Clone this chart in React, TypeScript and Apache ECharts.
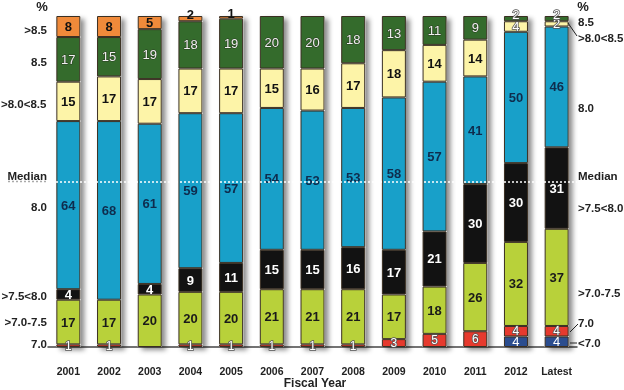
import React, { useEffect, useRef } from "react";
import * as echarts from "echarts";

const categories = ["2001", "2002", "2003", "2004", "2005", "2006", "2007", "2008", "2009", "2010", "2011", "2012", "Latest"];
const lt70 = [0, 0, 0, 0, 0, 0, 0, 0, 0, 0, 0, 4, 4];
const at70 = [1, 1, 0, 1, 1, 1, 1, 1, 3, 5, 6, 4, 4];
const r7075 = [17, 17, 20, 20, 20, 21, 21, 21, 17, 18, 26, 32, 37];
const r7580 = [4, 0, 4, 9, 11, 15, 15, 16, 17, 21, 30, 30, 31];
const at80 = [64, 68, 61, 59, 57, 54, 53, 53, 58, 57, 41, 50, 46];
const r8085 = [15, 17, 17, 17, 17, 15, 16, 17, 18, 14, 14, 4, 2];
const at85 = [17, 15, 19, 18, 19, 20, 20, 18, 13, 11, 9, 2, 2];
const gt85 = [8, 8, 5, 2, 1, 0, 0, 0, 0, 0, 0, 0, 0];
const median = 63;

const leftLabels = [">8.5", "8.5", ">8.0<8.5", "Median", "8.0", ">7.5<8.0", ">7.0-7.5", "7.0"];
const rightLabels = ["8.5", ">8.0<8.5", "8.0", "Median", ">7.5<8.0", ">7.0-7.5", "7.0", "<7.0"];

const FONT = "Liberation Sans, Arial, sans-serif";
const BORDER = "#3a2f22";

export default function App() {
  const ref = useRef<HTMLDivElement>(null);
  useEffect(() => {
    if (!ref.current) return;
    const chart = echarts.init(ref.current, null, { renderer: "svg" });
    const totals = categories.map((_, i) =>
      lt70[i] + at70[i] + r7075[i] + r7580[i] + at80[i] + r8085[i] + at85[i] + gt85[i]
    );
    const yMax = Math.max(...totals);

    const mk = (name: string, data: number[], color: string, label: any, overrides: Record<number, any> = {}) => ({
      name,
      type: "bar",
      stack: "all",
      barWidth: 24,
      z: 3,
      itemStyle: { color, borderColor: BORDER, borderWidth: 1 },
      label: {
        show: true,
        position: "inside",
        fontFamily: FONT,
        fontSize: 13,
        fontWeight: "bold",
        ...label,
        formatter: (p: any) => (p.value ? String(p.value) : ""),
      },
      data: data.map((v, i) => {
        if (!v) return "-";
        if (overrides[i]) return { value: v, label: overrides[i] };
        return v;
      }),
    });

    const outlined = { color: "#fff", textBorderColor: "#555", textBorderWidth: 1.5, fontWeight: "normal" };

    const series: any[] = [
      {
        name: "shadow",
        type: "bar",
        barWidth: 24,
        barGap: "-100%",
        z: 1,
        silent: true,
        itemStyle: {
          color: "#fff",
          shadowColor: "rgba(0,0,0,0.45)",
          shadowBlur: 5,
          shadowOffsetX: 4,
          shadowOffsetY: 3,
        },
        data: totals,
      },
      mk("<7.0", lt70, "#2b4d8f", { color: "#fff", fontWeight: "normal", fontSize: 13 }),
      mk("7.0", at70, "#e63a2e", { ...outlined, fontSize: 12 }),
      mk(">7.0-7.5", r7075, "#b8d13a", { color: "#1a1a1a" }),
      mk(">7.5<8.0", r7580, "#121212", { color: "#fff" }),
      mk("8.0", at80, "#18a0c9", { color: "#0f2c4d" }),
      mk(">8.0<8.5", r8085, "#fdf4a8", { color: "#111" }, {
        11: { ...outlined, offset: [0, 0] },
        12: { ...outlined, offset: [0, 0] },
      }),
      mk("8.5", at85, "#346b2c", { color: "#f0f0f0", fontWeight: "normal", textBorderColor: "#2a3a22", textBorderWidth: 1 }, {
        11: { ...outlined, offset: [0, -4] },
        12: { ...outlined, offset: [0, -4] },
      }),
      {
        ...mk(">8.5", gt85, "#f08a3a", { color: "#111" }, {
          3: { offset: [0, -4] },
          4: { offset: [0, -4] },
        }),
        markLine: {
          silent: true,
          symbol: "none",
          label: { show: false },
          lineStyle: { color: "#fff", type: [2, 2], width: 1.5 },
          data: [{ yAxis: median }],
        },
      },
    ];

    chart.setOption({
      animation: false,
      grid: { left: 48, right: 47, top: 16, bottom: 43 },
      xAxis: {
        type: "category",
        data: categories,
        offset: 13,
        axisTick: { show: false },
        axisLine: { lineStyle: { color: "#444", width: 1.5 } },
        axisLabel: { fontFamily: FONT, fontSize: 10.5, fontWeight: "bold", color: "#222", margin: 5 },
      },
      yAxis: { type: "value", min: 0, max: yMax, show: false },
      series,
    });

    const my = chart.convertToPixel({ yAxisIndex: 0 }, median) as number;
    const txt = (text: string, x: number, y: number, align: string, size = 11.5) => ({
      type: "text",
      x,
      y,
      style: { text, fill: "#222", font: `bold ${size}px ${FONT}`, align, verticalAlign: "middle" },
      z: 10,
    });
    const leftY = [30, 62, 104, 176, 207, 296, 322, 344];
    const rightY = [22, 38, 108, 176, 208, 293, 323, 343];
    const graphic: any[] = [
      txt("%", 42, 6, "center", 13),
      txt("%", 583, 6, "center", 13),
      txt("Fiscal Year", 315, 383, "center", 12),
      {
        type: "line",
        shape: { x1: 8, y1: my, x2: 48, y2: my },
        style: { stroke: "#aaa", lineDash: [2, 2], lineWidth: 1.5 },
        z: 10,
      },
      { type: "polyline", shape: { points: [[568, 23], [577, 36]] }, style: { stroke: "#222", lineWidth: 1 }, z: 10 },
      { type: "polyline", shape: { points: [[570, 332], [578, 324]] }, style: { stroke: "#222", lineWidth: 1 }, z: 10 },
      { type: "polyline", shape: { points: [[570, 343], [577, 343]] }, style: { stroke: "#222", lineWidth: 1 }, z: 10 },
    ];
    leftLabels.forEach((l, i) => {
      if (l === ">8.0<8.5") graphic.push(txt(l, 1, leftY[i], "left"));
      else graphic.push(txt(l, 47, leftY[i], "right"));
    });
    rightLabels.forEach((l, i) => graphic.push(txt(l, 578, rightY[i], "left")));
    chart.setOption({ graphic });

    return () => chart.dispose();
  }, []);
  return <div ref={ref} style={{ position: "fixed", left: 0, top: 0, width: 624, height: 390 }} />;
}
